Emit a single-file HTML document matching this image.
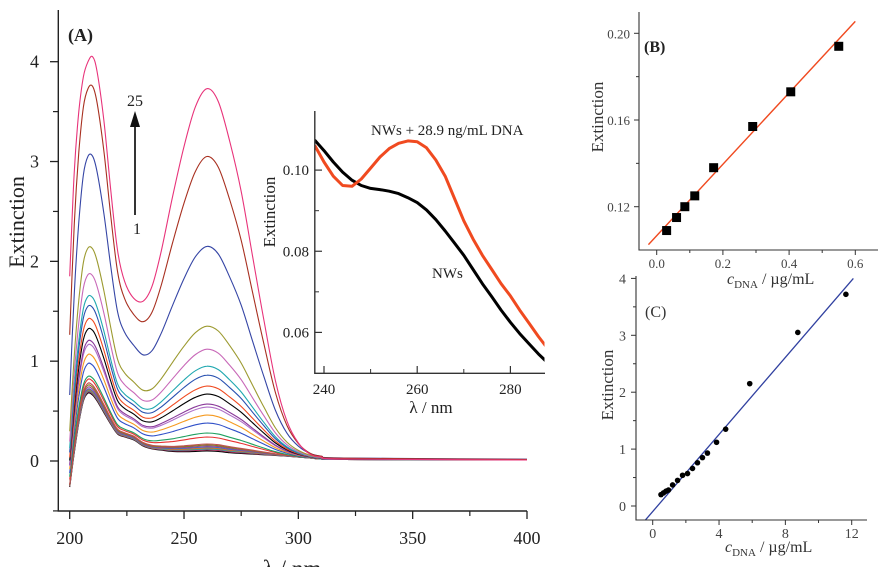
<!DOCTYPE html>
<html><head><meta charset="utf-8"><style>
html,body{margin:0;padding:0;background:#fff;}
svg{display:block;font-family:"Liberation Serif",serif;}
</style></head><body>
<svg id="fig" width="878" height="567" viewBox="0 0 878 567" xmlns="http://www.w3.org/2000/svg">
<g id="pa"></g>
<g id="pi"></g>
<g id="pb"></g>
<g id="pc"></g>
</svg>
<script>
// ---- Panel A data ----
const wl = [200,202,204,206,208,210,212,215,218,221,224,228,232,236,240,245,250,255,260,265,270,275,280,285,290,295,300,305,310,320,400];
const lowSpec = [-0.25,0.1,0.4,0.62,0.7,0.68,0.62,0.5,0.38,0.28,0.25,0.22,0.16,0.13,0.12,0.11,0.11,0.115,0.12,0.115,0.1,0.09,0.08,0.07,0.06,0.05,0.04,0.03,0.02,0.015,0.01];
const highSpec = [1.85,2.9,3.5,3.85,4.0,4.05,3.9,3.4,2.7,2.1,1.8,1.63,1.6,1.75,2.1,2.65,3.15,3.55,3.73,3.6,3.2,2.7,2.05,1.4,0.8,0.4,0.18,0.07,0.04,0.02,0.01];
const peak208 = [4.05,3.77,3.08,2.15,1.88,1.66,1.56,1.43,1.33,1.21,1.17,1.07,0.98,0.85,0.82,0.78,0.76,0.74,0.72,0.71,0.70,0.69,0.70,0.68,0.72];
const peak260 = [3.73,3.05,2.15,1.35,1.12,0.95,0.86,0.75,0.67,0.57,0.54,0.46,0.38,0.28,0.24,0.17,0.16,0.15,0.14,0.13,0.12,0.11,0.12,0.10,0.13];
const colors = ["#e8337a","#a83020","#3545a5","#9c9a30","#c868b8","#20a8b0","#2850b0","#f04a20","#000000","#8a3a9a","#b070c8","#f59a20","#3050c8","#20a060","#e83030","#c05050","#808020","#a04090","#4070c0","#e07020","#30a0a0","#b03060","#606060","#000000","#f050a0"];
const aXTicks = [200,250,300,350,400];
const aYTicks = [0,1,2,3,4];
// ---- Inset data ----
const insetWl = [238,240,242,244,246,248,250,252,254,256,258,260,262,264,266,268,270,272,274,276,278,280,282,284,286,288];
const insetDNA = [0.1061,0.1020,0.0985,0.0962,0.0960,0.0978,0.1005,0.1032,0.1053,0.1066,0.1072,0.1070,0.1055,0.1025,0.0985,0.0930,0.0875,0.0830,0.0790,0.0755,0.0720,0.0690,0.0655,0.0623,0.0590,0.0560];
const insetNW = [0.1074,0.1048,0.1020,0.0995,0.0975,0.0962,0.0955,0.0952,0.0948,0.0942,0.0932,0.0920,0.0902,0.0878,0.0850,0.0820,0.0790,0.0755,0.0720,0.0688,0.0655,0.0625,0.0597,0.0572,0.0547,0.0525];
const iXTicks = [240,260,280];
const iYTicks = [0.06,0.08,0.10];
// ---- Panel B data ----
const bConc = [0.03,0.06,0.085,0.115,0.172,0.29,0.405,0.55];
const bExt = [0.109,0.115,0.120,0.125,0.138,0.157,0.173,0.194];
const bFit = [[-0.025,0.1025],[0.6,0.2055]];
const bXTicks = [0.0,0.2,0.4,0.6];
const bYTicks = [0.12,0.16,0.20];
// ---- Panel C data ----
const cConc = [0.5,0.65,0.8,0.95,1.2,1.5,1.8,2.1,2.4,2.7,3.0,3.3,3.85,4.4,5.85,8.75,11.65];
const cExt = [0.2,0.23,0.26,0.28,0.37,0.45,0.54,0.57,0.66,0.76,0.85,0.93,1.12,1.35,2.15,3.05,3.72];
const cFit = [[-0.45,-0.25],[12.1,4.0]];
const cXTicks = [0,4,8,12];
const cYTicks = [0,1,2,3,4];

const NS="http://www.w3.org/2000/svg";
function mk(parent,tag,attrs,text){const e=document.createElementNS(NS,tag);for(const k in attrs)e.setAttribute(k,attrs[k]);if(text!==undefined)e.textContent=text;parent.appendChild(e);return e;}
function lin(d0,d1,r0,r1){return v=>r0+(v-d0)*(r1-r0)/(d1-d0);}

// ===== Panel A =====
const pa=document.getElementById('pa');
const ax=lin(200,400,69.7,527), ay=lin(0,4,461,61.7);
const D=0.7*3.73-0.12*4.05;
const cA=wl.map((_,i)=>(3.73*lowSpec[i]-0.12*highSpec[i])/D);
const cB=wl.map((_,i)=>(0.7*highSpec[i]-4.05*lowSpec[i])/D);
for(let c=peak208.length-1;c>=0;c--){
  const pts=wl.map((w,i)=>[ax(w),ay(peak208[c]*cA[i]+peak260[c]*cB[i])]);
  let d='M'+pts[0][0].toFixed(1)+','+pts[0][1].toFixed(1);
  for(let i=1;i<pts.length;i++){const p0=pts[Math.max(0,i-2)],p1=pts[i-1],p2=pts[i],p3=pts[Math.min(pts.length-1,i+1)];
    d+=` C${(p1[0]+(p2[0]-p0[0])/6).toFixed(1)},${(p1[1]+(p2[1]-p0[1])/6).toFixed(1)} ${(p2[0]-(p3[0]-p1[0])/6).toFixed(1)},${(p2[1]-(p3[1]-p1[1])/6).toFixed(1)} ${p2[0].toFixed(1)},${p2[1].toFixed(1)}`;}
  const el=mk(pa,'path',{d:d,fill:'none',stroke:colors[c],'stroke-width':1.1});
  
  
}
let e=mk(pa,'path',{d:'M58.3,10 V511 H527',fill:'none',stroke:'#222','stroke-width':1.4});

aXTicks.forEach(t=>{mk(pa,'line',{x1:ax(t),x2:ax(t),y1:511,y2:519,stroke:'#222','stroke-width':1.3});
  const l=mk(pa,'text',{x:ax(t),y:544,'text-anchor':'middle','font-size':18,fill:'#222'},t);
  });
[225,275,325,375].forEach(t=>mk(pa,'line',{x1:ax(t),x2:ax(t),y1:511,y2:516,stroke:'#222','stroke-width':1.2}));
aYTicks.forEach(t=>{mk(pa,'line',{x1:50,x2:58.3,y1:ay(t),y2:ay(t),stroke:'#222','stroke-width':1.3});
  const l=mk(pa,'text',{x:39,y:ay(t)+6,'text-anchor':'end','font-size':18,fill:'#222'},t);
  });
[-0.5,0.5,1.5,2.5,3.5].forEach(t=>mk(pa,'line',{x1:53,x2:58.3,y1:ay(t),y2:ay(t),stroke:'#222','stroke-width':1.2}));
e=mk(pa,'text',{x:292,y:576,'text-anchor':'middle','font-size':23,fill:'#222'},'λ / nm');
e=mk(pa,'text',{x:24,y:222,'text-anchor':'middle','font-size':22,fill:'#222',transform:'rotate(-90 24 222)'},'Extinction');
e=mk(pa,'text',{x:68,y:41,'font-size':18,'font-weight':'bold',fill:'#222'},'(A)');
e=mk(pa,'line',{x1:135,y1:215,x2:135,y2:122,stroke:'#111','stroke-width':1.7});
mk(pa,'path',{d:'M130,127 L135,111 L140,127 Z',fill:'#111'});
e=mk(pa,'text',{x:135,y:106,'text-anchor':'middle','font-size':16,fill:'#222'},'25');
e=mk(pa,'text',{x:137,y:234,'text-anchor':'middle','font-size':16,fill:'#222'},'1');

// ===== Inset =====
const pi=document.getElementById('pi');
const ix=lin(240,280,324,510.4), iy=lin(0.06,0.10,332.4,170.1);
mk(pi,'rect',{x:314,y:111,width:232,height:263,fill:'#fff'});
mk(pi,'clipPath',{id:'ic'});mk(pi.lastChild,'rect',{x:315.5,y:100,width:229,height:272});
[[insetNW,'#000','inset-nws-curve'],[insetDNA,'#f04a20','inset-dna-curve']].forEach(([arr,col,nm])=>{
  const d=insetWl.map((w,i)=>(i?'L':'M')+ix(w).toFixed(1)+','+iy(arr[i]).toFixed(1)).join(' ');
  const p=mk(pi,'path',{d:d,fill:'none',stroke:col,'stroke-width':3,'stroke-linejoin':'round','clip-path':'url(#ic)'});
  });
e=mk(pi,'path',{d:'M314.8,111 V373.3 H545',fill:'none',stroke:'#333','stroke-width':1.4});
iXTicks.forEach(t=>{mk(pi,'line',{x1:ix(t),x2:ix(t),y1:373.3,y2:366,stroke:'#333','stroke-width':1.2});
  const l=mk(pi,'text',{x:ix(t),y:394,'text-anchor':'middle','font-size':15,fill:'#222'},t);});
[250,270].forEach(t=>mk(pi,'line',{x1:ix(t),x2:ix(t),y1:373.3,y2:369,stroke:'#333'}));
iYTicks.forEach(t=>{mk(pi,'line',{x1:314.8,x2:322,y1:iy(t),y2:iy(t),stroke:'#333','stroke-width':1.2});
  const l=mk(pi,'text',{x:309,y:iy(t)+5,'text-anchor':'end','font-size':15,fill:'#222'},t.toFixed(2));});
[0.07,0.09].forEach(t=>mk(pi,'line',{x1:314.8,x2:319,y1:iy(t),y2:iy(t),stroke:'#333'}));
e=mk(pi,'text',{x:431,y:413,'text-anchor':'middle','font-size':17,fill:'#222'},'λ / nm');
e=mk(pi,'text',{x:275,y:212,'text-anchor':'middle','font-size':17,fill:'#222',transform:'rotate(-90 275 212)'},'Extinction');
e=mk(pi,'text',{x:371,y:135,'font-size':15,fill:'#222'},'NWs + 28.9 ng/mL DNA');
e=mk(pi,'text',{x:432,y:278,'font-size':15,fill:'#222'},'NWs');

// ===== Panel B =====
const pb=document.getElementById('pb');
const bx=lin(0,0.6,656.7,855.3), by=lin(0.12,0.20,206.7,33.3);
e=mk(pb,'line',{x1:bx(bFit[0][0]),y1:by(bFit[0][1]),x2:bx(bFit[1][0]),y2:by(bFit[1][1]),stroke:'#f04a20','stroke-width':1.4});
bConc.forEach((c,i)=>{const r=mk(pb,'rect',{x:bx(c)-4.5,y:by(bExt[i])-4.5,width:9,height:9,fill:'#000'});});
e=mk(pb,'path',{d:'M639,12 V250 H878',fill:'none',stroke:'#333','stroke-width':1.1});
bXTicks.forEach(t=>{mk(pb,'line',{x1:bx(t),x2:bx(t),y1:250,y2:255,stroke:'#333'});
  const l=mk(pb,'text',{x:bx(t),y:268,'text-anchor':'middle','font-size':13,fill:'#444'},t.toFixed(1));});
[0.1,0.3,0.5].forEach(t=>mk(pb,'line',{x1:bx(t),x2:bx(t),y1:250,y2:253,stroke:'#333'}));
bYTicks.forEach(t=>{mk(pb,'line',{x1:634,x2:639,y1:by(t),y2:by(t),stroke:'#333'});
  const l=mk(pb,'text',{x:630,y:by(t)+5,'text-anchor':'end','font-size':13,fill:'#444'},t.toFixed(2));});
[0.14,0.18].forEach(t=>mk(pb,'line',{x1:636,x2:639,y1:by(t),y2:by(t),stroke:'#333'}));
e=mk(pb,'text',{x:727,y:284,'font-size':16,fill:'#333'});e.innerHTML='<tspan font-style="italic">c</tspan><tspan font-size="11" dy="4">DNA</tspan><tspan dy="-4"> / µg/mL</tspan>';
e=mk(pb,'text',{x:603,y:117,'text-anchor':'middle','font-size':17,fill:'#333',transform:'rotate(-90 603 117)'},'Extinction');
e=mk(pb,'text',{x:644,y:52,'font-size':16,'font-weight':'bold',fill:'#222'},'(B)');

// ===== Panel C =====
const pc=document.getElementById('pc');
const cx=lin(0,12,652.7,851.7), cy=lin(0,3,506,335.3);
e=mk(pc,'line',{x1:cx(cFit[0][0]),y1:cy(cFit[0][1]),x2:cx(cFit[1][0]),y2:cy(cFit[1][1]),stroke:'#3040a0','stroke-width':1.3});
cConc.forEach((c,i)=>{const r=mk(pc,'circle',{cx:cx(c),cy:cy(cExt[i]),r:2.8,fill:'#000'});});
e=mk(pc,'path',{d:'M636,276 V520 H867',fill:'none',stroke:'#333','stroke-width':1.1});
cXTicks.forEach(t=>{mk(pc,'line',{x1:cx(t),x2:cx(t),y1:520,y2:525,stroke:'#333'});
  const l=mk(pc,'text',{x:cx(t),y:538,'text-anchor':'middle','font-size':14,fill:'#444'},t);});
[2,6,10].forEach(t=>mk(pc,'line',{x1:cx(t),x2:cx(t),y1:520,y2:523,stroke:'#333'}));
cYTicks.forEach(t=>{mk(pc,'line',{x1:631,x2:636,y1:cy(t),y2:cy(t),stroke:'#333'});
  const l=mk(pc,'text',{x:626,y:cy(t)+5,'text-anchor':'end','font-size':14,fill:'#444'},t);});
[0.5,1.5,2.5,3.5].forEach(t=>mk(pc,'line',{x1:633,x2:636,y1:cy(t),y2:cy(t),stroke:'#333'}));
e=mk(pc,'text',{x:725,y:552,'font-size':16,fill:'#333'});e.innerHTML='<tspan font-style="italic">c</tspan><tspan font-size="11" dy="4">DNA</tspan><tspan dy="-4"> / µg/mL</tspan>';
e=mk(pc,'text',{x:613,y:385,'text-anchor':'middle','font-size':17,fill:'#333',transform:'rotate(-90 613 385)'},'Extinction');
e=mk(pc,'text',{x:645,y:317,'font-size':16,fill:'#333'},'(C)');
</script>
</body></html>
